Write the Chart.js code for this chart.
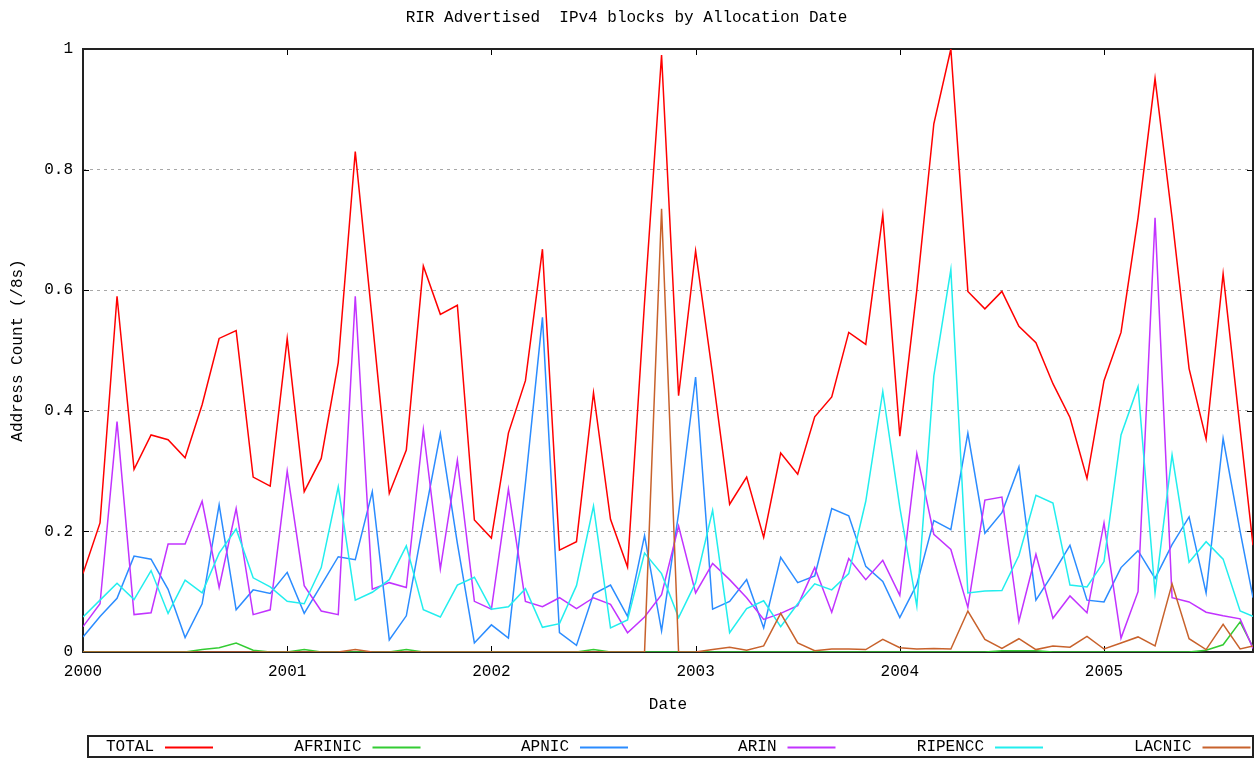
<!DOCTYPE html>
<html>
<head>
<meta charset="utf-8">
<title>RIR Advertised IPv4 blocks by Allocation Date</title>
<script src="https://cdn.jsdelivr.net/npm/chart.js@4/dist/chart.umd.min.js"></script>
<style>
  html, body { margin: 0; padding: 0; background: #fff; }
  canvas { display: block; }
</style>
</head>
<body>
<canvas id="chart" width="1256" height="758"></canvas>
<script>
// monthly samples, last one is the report date
const dates = [
  '2000-01-01', '2000-02-01', '2000-03-01', '2000-04-01', '2000-05-01', '2000-06-01',
  '2000-07-01', '2000-08-01', '2000-09-01', '2000-10-01', '2000-11-01', '2000-12-01',
  '2001-01-01', '2001-02-01', '2001-03-01', '2001-04-01', '2001-05-01', '2001-06-01',
  '2001-07-01', '2001-08-01', '2001-09-01', '2001-10-01', '2001-11-01', '2001-12-01',
  '2002-01-01', '2002-02-01', '2002-03-01', '2002-04-01', '2002-05-01', '2002-06-01',
  '2002-07-01', '2002-08-01', '2002-09-01', '2002-10-01', '2002-11-01', '2002-12-01',
  '2003-01-01', '2003-02-01', '2003-03-01', '2003-04-01', '2003-05-01', '2003-06-01',
  '2003-07-01', '2003-08-01', '2003-09-01', '2003-10-01', '2003-11-01', '2003-12-01',
  '2004-01-01', '2004-02-01', '2004-03-01', '2004-04-01', '2004-05-01', '2004-06-01',
  '2004-07-01', '2004-08-01', '2004-09-01', '2004-10-01', '2004-11-01', '2004-12-01',
  '2005-01-01', '2005-02-01', '2005-03-01', '2005-04-01', '2005-05-01', '2005-06-01',
  '2005-07-01', '2005-08-01', '2005-09-01', '2005-09-24'
];

const total = [
  0.13, 0.214, 0.59, 0.303, 0.36, 0.352, 0.322, 0.41, 0.52, 0.533, 0.29, 0.275,
  0.52, 0.266, 0.321, 0.48, 0.83, 0.55, 0.263, 0.335, 0.64, 0.56, 0.575, 0.219,
  0.189, 0.363, 0.45, 0.668, 0.169, 0.183, 0.43, 0.22, 0.141, 0.58, 0.99, 0.425,
  0.665, 0.46, 0.245, 0.29, 0.19, 0.33, 0.295, 0.39, 0.423, 0.53, 0.51, 0.725,
  0.358, 0.6, 0.876, 1.0, 0.598, 0.569, 0.598, 0.54, 0.513, 0.445, 0.389, 0.288,
  0.45, 0.53, 0.72, 0.951, 0.72, 0.47, 0.353, 0.627, 0.37, 0.177
];

const afrinic = [
  0, 0, 0, 0, 0, 0, 0, 0.004, 0.007, 0.015, 0.003, 0,
  0, 0.004, 0, 0, 0, 0, 0, 0.004, 0, 0, 0, 0,
  0, 0, 0, 0, 0, 0, 0.004, 0, 0, 0, 0, 0,
  0, 0, 0, 0, 0, 0, 0, 0, 0, 0, 0, 0,
  0, 0, 0, 0, 0, 0, 0.002, 0.002, 0.002, 0, 0, 0,
  0, 0, 0, 0, 0, 0, 0.003, 0.012, 0.05, 0.008
];

const apnic = [
  0.025, 0.059, 0.089, 0.159, 0.154, 0.104, 0.024, 0.08, 0.244, 0.07, 0.103, 0.097,
  0.132, 0.064, 0.111, 0.158, 0.153, 0.266, 0.02, 0.06, 0.214, 0.362, 0.18, 0.015,
  0.045, 0.023, 0.28, 0.555, 0.032, 0.011, 0.096, 0.111, 0.059, 0.193, 0.035, 0.23,
  0.456, 0.071, 0.084, 0.12, 0.04, 0.157, 0.115, 0.126, 0.238, 0.226, 0.142, 0.117,
  0.057, 0.112, 0.218, 0.203, 0.363, 0.197, 0.231, 0.307, 0.086, 0.13, 0.177, 0.086,
  0.083, 0.14, 0.168, 0.122, 0.178, 0.224, 0.098, 0.354, 0.2, 0.09
];

const arin = [
  0.042, 0.08, 0.382, 0.062, 0.065, 0.179, 0.179, 0.25, 0.107, 0.238, 0.062, 0.07,
  0.3, 0.11, 0.068, 0.062, 0.59, 0.104, 0.115, 0.107, 0.369, 0.138, 0.318, 0.084,
  0.071, 0.27, 0.084, 0.075, 0.09, 0.072, 0.09, 0.079, 0.032, 0.058, 0.095, 0.209,
  0.098, 0.147, 0.12, 0.09, 0.054, 0.064, 0.077, 0.14, 0.066, 0.155, 0.12, 0.152,
  0.094, 0.329, 0.195, 0.17, 0.074, 0.252, 0.257, 0.051, 0.162, 0.056, 0.093, 0.065,
  0.214, 0.023, 0.1, 0.72, 0.09, 0.083, 0.066, 0.06, 0.055, 0.006
];

const ripencc = [
  0.058, 0.086, 0.114, 0.087, 0.135, 0.064, 0.119, 0.098, 0.164, 0.204, 0.123, 0.108,
  0.084, 0.08, 0.14, 0.274, 0.086, 0.099, 0.12, 0.176, 0.07, 0.058, 0.111, 0.124,
  0.071, 0.075, 0.105, 0.041, 0.047, 0.11, 0.242, 0.04, 0.053, 0.164, 0.13, 0.057,
  0.115, 0.235, 0.032, 0.072, 0.085, 0.042, 0.08, 0.113, 0.103, 0.13, 0.25, 0.432,
  0.24, 0.076, 0.458, 0.634, 0.098, 0.101, 0.102, 0.16, 0.26, 0.247, 0.111, 0.108,
  0.15, 0.36, 0.44, 0.098, 0.327, 0.149, 0.183, 0.154, 0.068, 0.059
];

const lacnic = [
  0, 0, 0, 0, 0, 0, 0, 0, 0, 0, 0, 0,
  0, 0, 0, 0, 0.004, 0, 0, 0, 0, 0, 0, 0,
  0, 0, 0, 0, 0, 0, 0, 0, 0, 0, 0.735, 0,
  0, 0.004, 0.008, 0.003, 0.01, 0.064, 0.015, 0.002, 0.005, 0.005, 0.004, 0.021,
  0.007, 0.005, 0.006, 0.005, 0.068, 0.021, 0.006, 0.022, 0.004, 0.01, 0.008, 0.026,
  0.005, 0.015, 0.025, 0.01, 0.113, 0.022, 0.004, 0.046, 0.005, 0.01
];

const yTicks = [0, 0.2, 0.4, 0.6, 0.8, 1];

const FONT = 'Liberation Mono, DejaVu Sans Mono, monospace';

// date string -> fractional year for the linear x axis
function toYear(s) {
  const [y, m, d] = s.split('-').map(Number);
  return y + (m - 1) / 12 + (d - 1) / 365;
}
const xs = dates.map(toYear);
const pts = vals => vals.map((v, i) => ({ x: xs[i], y: v }));

const series = [
  { label: 'TOTAL',   data: total,   color: '#ff0000' },
  { label: 'AFRINIC', data: afrinic, color: '#33cc33' },
  { label: 'APNIC',   data: apnic,   color: '#2b8cff' },
  { label: 'ARIN',    data: arin,    color: '#c233ff' },
  { label: 'RIPENCC', data: ripencc, color: '#22eeee' },
  { label: 'LACNIC',  data: lacnic,  color: '#c8622c' }
];

// gnuplot style border with inward ticks, drawn under the data
const frame = {
  id: 'frame',
  beforeDatasetsDraw(chart) {
    const { ctx, chartArea: a, scales: { x, y } } = chart;
    ctx.save();
    ctx.strokeStyle = '#000';
    ctx.lineWidth = 1;
    ctx.beginPath();
    x.ticks.forEach(t => {
      const px = Math.round(x.getPixelForValue(t.value)) + 0.5;
      if (px <= a.left + 1 || px >= a.right - 1) return;
      ctx.moveTo(px, a.bottom); ctx.lineTo(px, a.bottom - 6);
      ctx.moveTo(px, a.top); ctx.lineTo(px, a.top + 6);
    });
    y.ticks.forEach(t => {
      const py = Math.round(y.getPixelForValue(t.value)) + 0.5;
      if (py <= a.top + 1 || py >= a.bottom - 1) return;
      ctx.moveTo(a.left, py); ctx.lineTo(a.left + 6, py);
      ctx.moveTo(a.right, py); ctx.lineTo(a.right - 6, py);
    });
    ctx.stroke();
    ctx.lineWidth = 2;
    ctx.strokeStyle = '#222';
    ctx.strokeRect(a.left, a.top, a.right - a.left, a.bottom - a.top);
    ctx.restore();
  }
};

// key below the plot: text first, then the line sample
const keyBox = {
  id: 'keyBox',
  afterDraw(chart) {
    const { ctx } = chart;
    const left = 88, right = 1253, top = 736, bottom = 757;
    const step = 207.5;
    const mid = (top + bottom) / 2 + 0.5;
    ctx.save();
    ctx.lineWidth = 2;
    ctx.strokeStyle = '#222';
    ctx.strokeRect(left, top, right - left, bottom - top);
    ctx.font = '16px ' + FONT;
    ctx.fillStyle = '#000';
    ctx.textAlign = 'right';
    ctx.textBaseline = 'middle';
    chart.data.datasets.forEach((ds, i) => {
      const x0 = left + i * step;
      ctx.fillText(ds.label, x0 + 66, mid);
      ctx.strokeStyle = ds.borderColor;
      ctx.lineWidth = 2;
      ctx.beginPath();
      ctx.moveTo(x0 + 77, Math.round(mid) + 0.5);
      ctx.lineTo(x0 + 125, Math.round(mid) + 0.5);
      ctx.stroke();
    });
    ctx.restore();
  }
};

new Chart(document.getElementById('chart'), {
  type: 'line',
  data: {
    datasets: series.map((s, i) => ({
      label: s.label,
      data: pts(s.data),
      borderColor: s.color,
      backgroundColor: s.color,
      borderWidth: 1.5,
      pointRadius: 0,
      tension: 0,
      fill: false,
      order: series.length - i
    }))
  },
  options: {
    responsive: false,
    animation: false,
    layout: { padding: { left: 0, right: 3, top: 0, bottom: 36 } },
    plugins: {
      legend: { display: false },
      tooltip: { enabled: false },
      title: {
        display: true,
        text: 'RIR Advertised  IPv4 blocks by Allocation Date',
        color: '#000',
        font: { family: FONT, size: 16, weight: 'normal' },
        padding: { top: 8.4, bottom: 21.4 }
      }
    },
    scales: {
      x: {
        type: 'linear',
        min: xs[0],
        max: xs[xs.length - 1],
        afterFit: s => { s.height = 70; },
        grid: { display: false, drawTicks: false },
        border: { display: false },
        ticks: {
          stepSize: 1,
          includeBounds: false,
          autoSkip: false,
          maxRotation: 0,
          padding: 10,
          color: '#000',
          font: { family: FONT, size: 16 },
          callback: v => Number.isInteger(v) ? String(v) : null
        },
        title: {
          display: true,
          text: 'Date',
          color: '#000',
          font: { family: FONT, size: 16 },
          padding: { top: 0, bottom: 7.4 }
        }
      },
      y: {
        min: yTicks[0],
        max: yTicks[yTicks.length - 1],
        afterFit: s => { s.width = 83; },
        afterBuildTicks: s => { s.ticks = yTicks.map(v => ({ value: v })); },
        grid: {
          drawTicks: false,
          lineWidth: 1,
          color: c => (c.tick && c.tick.value > 0 && c.tick.value < 1) ? '#a8a8a8' : 'rgba(0,0,0,0)'
        },
        border: { display: false, dash: [3, 4] },
        ticks: {
          padding: 10,
          color: '#000',
          font: { family: FONT, size: 16 },
          callback: v => String(+v.toFixed(1))
        },
        title: {
          display: true,
          text: 'Address Count (/8s)',
          color: '#000',
          font: { family: FONT, size: 16 },
          padding: { top: 8.4, bottom: 0 }
        }
      }
    }
  },
  plugins: [frame, keyBox]
});
</script>
</body>
</html>
